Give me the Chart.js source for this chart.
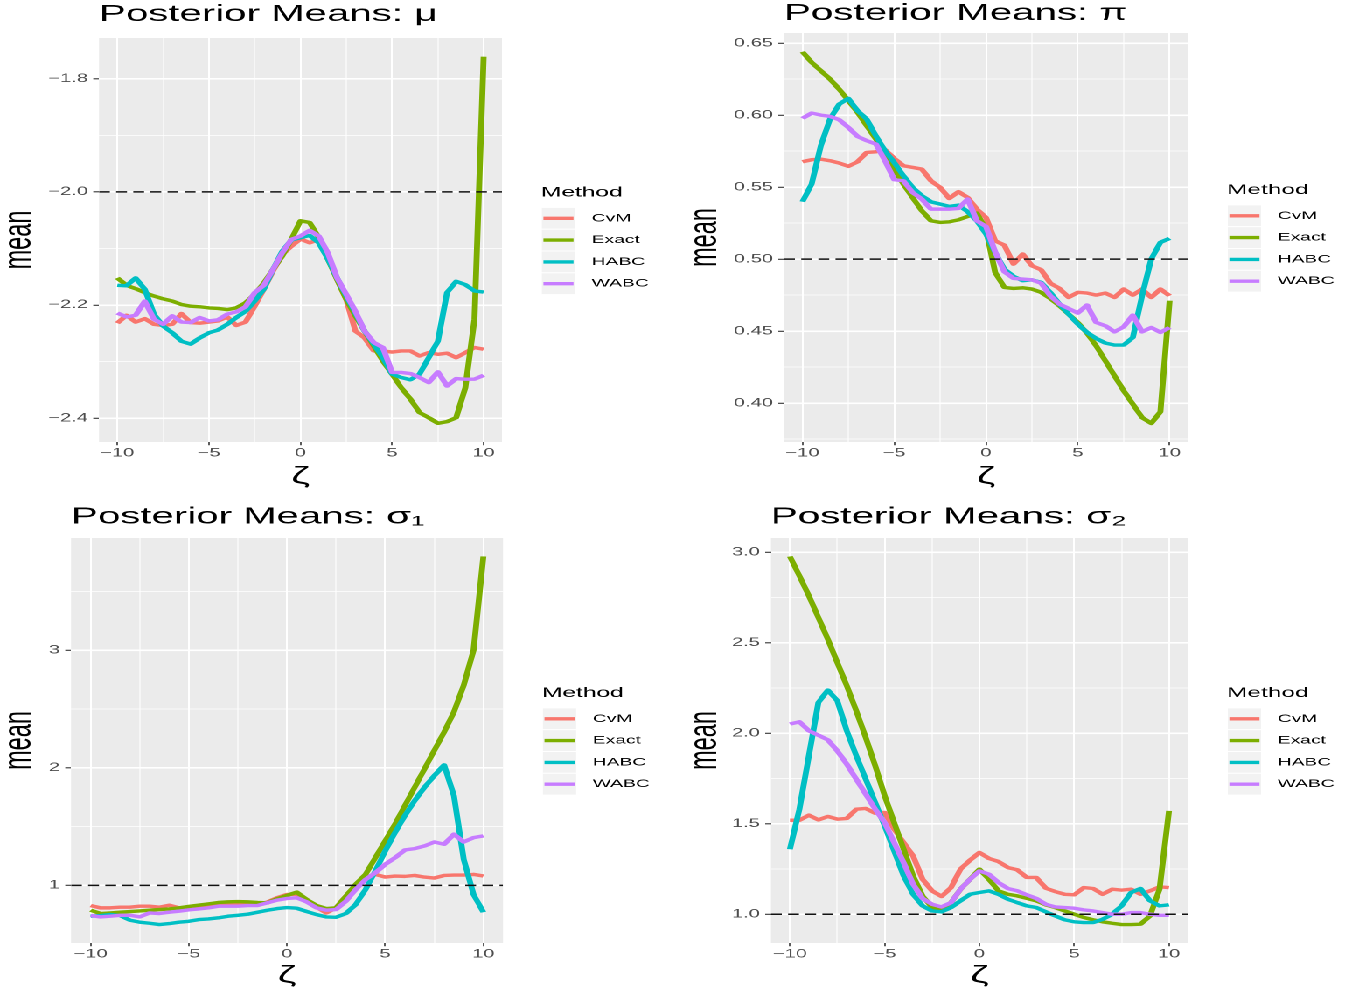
<!DOCTYPE html>
<html>
<head>
<meta charset="utf-8">
<script src="https://cdn.jsdelivr.net/npm/chart.js@4.4.1/dist/chart.umd.min.js"></script>
<style>
html,body{margin:0;padding:0;background:#fff;overflow:hidden;width:1352px;height:993px;}
#stage{position:absolute;left:0;top:0;width:773px;height:993px;transform:scaleX(1.74903);transform-origin:0 0;}
#stage canvas{position:absolute;}
</style>
</head>
<body>
<div id="stage">
  <canvas id="p1" width="386" height="496" style="left:0px;top:0px;width:386px;height:496px"></canvas>
  <canvas id="p2" width="387" height="496" style="left:386px;top:0px;width:387px;height:496px"></canvas>
  <canvas id="p3" width="386" height="497" style="left:0px;top:496px;width:386px;height:497px"></canvas>
  <canvas id="p4" width="387" height="497" style="left:386px;top:496px;width:387px;height:497px"></canvas>
</div>
<script>
// ---------------- data ----------------
const zeta = [-10,-9.5,-9,-8.5,-8,-7.5,-7,-6.5,-6,-5.5,-5,-4.5,-4,-3.5,-3,-2.5,-2,-1.5,-1,-0.5,0,0.5,1,1.5,2,2.5,3,3.5,4,4.5,5,5.5,6,6.5,7,7.5,8,8.5,9,9.5,10];
const methods = ["CvM","Exact","HABC","WABC"];
const methodColors = ["#F8766D","#7CAE00","#00BFC4","#C77CFF"];

// Posterior means of mu
const muCvM   = [-2.232,-2.218,-2.230,-2.224,-2.234,-2.236,-2.234,-2.215,-2.231,-2.232,-2.230,-2.228,-2.221,-2.236,-2.230,-2.202,-2.172,-2.140,-2.111,-2.096,-2.083,-2.090,-2.084,-2.114,-2.155,-2.190,-2.246,-2.258,-2.281,-2.281,-2.283,-2.281,-2.281,-2.290,-2.284,-2.287,-2.285,-2.293,-2.284,-2.275,-2.278];
const muExact = [-2.152,-2.165,-2.171,-2.178,-2.184,-2.189,-2.193,-2.199,-2.202,-2.203,-2.205,-2.206,-2.208,-2.205,-2.196,-2.181,-2.161,-2.137,-2.114,-2.084,-2.051,-2.054,-2.081,-2.119,-2.155,-2.190,-2.219,-2.246,-2.272,-2.299,-2.322,-2.346,-2.366,-2.390,-2.399,-2.409,-2.406,-2.399,-2.346,-2.225,-1.761];
const muHABC  = [-2.165,-2.166,-2.152,-2.172,-2.216,-2.237,-2.249,-2.264,-2.269,-2.258,-2.249,-2.244,-2.234,-2.222,-2.211,-2.193,-2.172,-2.137,-2.105,-2.085,-2.081,-2.077,-2.090,-2.119,-2.152,-2.184,-2.214,-2.246,-2.269,-2.293,-2.322,-2.328,-2.332,-2.322,-2.293,-2.264,-2.178,-2.158,-2.164,-2.175,-2.177];
const muWABC  = [-2.214,-2.221,-2.218,-2.193,-2.225,-2.234,-2.219,-2.230,-2.231,-2.222,-2.228,-2.226,-2.216,-2.212,-2.203,-2.178,-2.165,-2.137,-2.108,-2.084,-2.078,-2.068,-2.078,-2.108,-2.152,-2.181,-2.211,-2.246,-2.266,-2.275,-2.319,-2.319,-2.321,-2.328,-2.337,-2.318,-2.343,-2.330,-2.331,-2.331,-2.324];

// Posterior means of pi
const piCvM   = [0.5676,0.5690,0.5694,0.5683,0.5667,0.5644,0.5676,0.5741,0.5745,0.5759,0.5699,0.5648,0.5637,0.5625,0.5544,0.5498,0.5421,0.5468,0.5428,0.5347,0.5289,0.5127,0.5097,0.4965,0.5035,0.4954,0.4926,0.4833,0.4796,0.4734,0.4769,0.4764,0.4750,0.4764,0.4734,0.4792,0.4750,0.4792,0.4734,0.4792,0.4745];
const piExact = [0.6440,0.6366,0.6308,0.6250,0.6180,0.6100,0.6019,0.5926,0.5833,0.5729,0.5625,0.5521,0.5428,0.5336,0.5266,0.5255,0.5259,0.5273,0.5296,0.5319,0.5208,0.4907,0.4803,0.4796,0.4801,0.4792,0.4769,0.4727,0.4676,0.4618,0.4560,0.4486,0.4398,0.4294,0.4190,0.4086,0.3993,0.3900,0.3859,0.3940,0.4711];
const piHABC  = [0.5398,0.5521,0.5787,0.5972,0.6076,0.6116,0.6030,0.5972,0.5856,0.5752,0.5671,0.5579,0.5498,0.5440,0.5398,0.5382,0.5366,0.5375,0.5329,0.5266,0.5174,0.5046,0.4930,0.4880,0.4850,0.4856,0.4838,0.4769,0.4688,0.4618,0.4549,0.4491,0.4449,0.4417,0.4403,0.4403,0.4456,0.4745,0.5000,0.5116,0.5144];
const piWABC  = [0.5977,0.6014,0.6000,0.5991,0.5968,0.5914,0.5852,0.5822,0.5799,0.5683,0.5551,0.5544,0.5463,0.5417,0.5347,0.5347,0.5347,0.5352,0.5417,0.5266,0.5227,0.5051,0.4912,0.4866,0.4861,0.4856,0.4833,0.4745,0.4688,0.4657,0.4625,0.4681,0.4560,0.4537,0.4495,0.4530,0.4611,0.4495,0.4525,0.4491,0.4525];

// Posterior means of sigma1
const s1CvM   = [0.829,0.809,0.809,0.815,0.815,0.823,0.823,0.815,0.832,0.809,0.815,0.823,0.829,0.838,0.838,0.840,0.840,0.840,0.858,0.895,0.923,0.923,0.875,0.818,0.766,0.809,0.909,1.000,1.066,1.094,1.071,1.080,1.077,1.085,1.071,1.063,1.085,1.088,1.088,1.094,1.080];
const s1Exact = [0.789,0.761,0.766,0.772,0.778,0.783,0.789,0.795,0.800,0.809,0.821,0.832,0.843,0.855,0.860,0.863,0.860,0.855,0.852,0.886,0.915,0.943,0.880,0.829,0.803,0.809,0.909,1.009,1.094,1.236,1.379,1.521,1.678,1.835,1.991,2.148,2.305,2.476,2.704,3.003,3.800];
const s1HABC  = [0.738,0.744,0.752,0.744,0.704,0.687,0.678,0.667,0.675,0.687,0.695,0.709,0.715,0.724,0.738,0.746,0.755,0.772,0.789,0.803,0.812,0.806,0.778,0.752,0.732,0.729,0.761,0.838,0.966,1.123,1.293,1.450,1.593,1.721,1.835,1.934,2.026,1.764,1.222,0.923,0.772];
const s1WABC  = [0.744,0.732,0.738,0.746,0.746,0.732,0.766,0.761,0.772,0.781,0.792,0.800,0.809,0.823,0.823,0.823,0.829,0.829,0.852,0.875,0.889,0.895,0.860,0.809,0.789,0.795,0.866,0.966,1.051,1.108,1.179,1.236,1.302,1.313,1.336,1.370,1.350,1.436,1.370,1.407,1.422];

// Posterior means of sigma2
const s2CvM   = [1.519,1.519,1.547,1.521,1.540,1.525,1.529,1.580,1.584,1.558,1.562,1.470,1.396,1.322,1.193,1.129,1.098,1.147,1.249,1.298,1.341,1.308,1.291,1.258,1.245,1.203,1.203,1.144,1.125,1.110,1.107,1.147,1.142,1.110,1.138,1.133,1.138,1.110,1.129,1.151,1.147];
const s2Exact = [2.976,2.869,2.759,2.639,2.519,2.390,2.262,2.123,1.976,1.820,1.654,1.506,1.359,1.212,1.101,1.037,1.022,1.064,1.138,1.193,1.249,1.193,1.129,1.110,1.101,1.088,1.074,1.052,1.037,1.018,1.000,0.982,0.969,0.958,0.950,0.943,0.943,0.945,0.991,1.138,1.571];
const s2HABC  = [1.359,1.580,1.875,2.169,2.238,2.179,2.013,1.875,1.746,1.617,1.488,1.350,1.212,1.110,1.046,1.018,1.013,1.037,1.074,1.110,1.120,1.129,1.110,1.083,1.064,1.046,1.037,1.013,0.991,0.969,0.958,0.954,0.954,0.972,1.000,1.046,1.120,1.142,1.074,1.046,1.052];
const s2WABC  = [2.050,2.063,2.013,1.989,1.963,1.902,1.829,1.746,1.663,1.580,1.506,1.396,1.285,1.166,1.087,1.055,1.040,1.064,1.138,1.193,1.239,1.221,1.175,1.142,1.129,1.107,1.087,1.055,1.040,1.037,1.033,1.024,1.018,1.009,1.000,1.000,1.009,1.009,1.000,0.994,0.994];

// reference (true) values drawn as dashed lines
const refMu = -2.0, refPi = 0.5, refS1 = 1, refS2 = 1.0;

// axis ticks
const xGrid = [-10,-7.5,-5,-2.5,0,2.5,5,7.5,10];
const xTickValues = [-10,-5,0,5,10];
const xTickLabels = ["\u221210","\u22125","0","5","10"];

const muGrid = [-2.4,-2.3,-2.2,-2.1,-2.0,-1.9,-1.8];
const muTickValues = [-2.4,-2.2,-2.0,-1.8];
const muTickLabels = ["\u22122.4","\u22122.2","\u22122.0","\u22121.8"];

const piGrid = [0.375,0.40,0.425,0.45,0.475,0.50,0.525,0.55,0.575,0.60,0.625,0.65];
const piTickValues = [0.40,0.45,0.50,0.55,0.60,0.65];
const piTickLabels = ["0.40","0.45","0.50","0.55","0.60","0.65"];

const s1Grid = [1,1.5,2,2.5,3,3.5];
const s1TickValues = [1,2,3];
const s1TickLabels = ["1","2","3"];

const s2Grid = [1.0,1.25,1.5,1.75,2.0,2.25,2.5,2.75,3.0];
const s2TickValues = [1.0,1.5,2.0,2.5,3.0];
const s2TickLabels = ["1.0","1.5","2.0","2.5","3.0"];

// ---------------- chart helpers ----------------
Chart.defaults.font.family = '"Liberation Sans", Arial, Helvetica, sans-serif';
Chart.defaults.animation = false;

const key = v => Number(v).toFixed(4);
function labelMap(vals, labs){ const m = {}; vals.forEach((v,i)=>{ m[key(v)] = labs[i]; }); return m; }

const panelBg = {
  id:'panelBg',
  beforeDraw(chart){
    const {ctx, chartArea:a} = chart;
    ctx.save();
    ctx.fillStyle = '#EBEBEB';
    ctx.fillRect(a.left, a.top, a.right-a.left, a.bottom-a.top);
    ctx.restore();
  }
};

const ggLegend = {
  id:'ggLegend',
  afterDraw(chart, args, opts){
    const {ctx, chartArea:a} = chart;
    const c = (a.top + a.bottom)/2;
    const x0 = a.right + 22.3;
    const kw = 20, kh = 21.8;
    ctx.save();
    ctx.textAlign = 'left';
    ctx.textBaseline = 'middle';
    ctx.fillStyle = '#000';
    ctx.font = '14px "Liberation Sans", Arial, sans-serif';
    ctx.fillText(opts.title, x0, c - 47.2);
    const items = chart.data.datasets.filter(d => d.inLegend);
    items.forEach((d,i) => {
      const kc = c - 21.7 + kh*i;
      const ky = kc - kh/2;
      ctx.fillStyle = '#F2F2F2';
      ctx.fillRect(x0, ky, kw, kh);
      ctx.strokeStyle = '#FFFFFF';
      ctx.lineWidth = 1;
      ctx.strokeRect(x0, ky, kw, kh);
      ctx.strokeStyle = d.borderColor;
      ctx.lineWidth = 3.4;
      ctx.lineCap = 'butt';
      ctx.beginPath();
      ctx.moveTo(x0 + kw*0.07, kc);
      ctx.lineTo(x0 + kw*0.93, kc);
      ctx.stroke();
      ctx.fillStyle = '#000';
      ctx.font = '11px "Liberation Sans", Arial, sans-serif';
      ctx.fillText(d.label, a.right + 51.3, kc);
    });
    ctx.restore();
  }
};

function makePanel(id, titleText, series, ref, yMin, yMax, yGrid, yTickValues, yTickLabels, L){
  const xLab = labelMap(xTickValues, xTickLabels);
  const yLab = labelMap(yTickValues, yTickLabels);
  const xMaj = v => key(v) in xLab;
  const yMaj = v => key(v) in yLab;
  const orders = [4,3,2,1];
  const datasets = series.map((vals,i) => ({
    label: methods[i],
    inLegend: true,
    data: zeta.map((z,j) => ({x:z, y:vals[j]})),
    borderColor: methodColors[i],
    backgroundColor: methodColors[i],
    borderWidth: 3.4,
    borderJoinStyle: 'round',
    borderCapStyle: 'butt',
    pointRadius: 0,
    tension: 0,
    fill: false,
    order: orders[i]
  }));
  datasets.push({
    label: 'ref',
    inLegend: false,
    data: [{x:-11, y:ref},{x:11, y:ref}],
    borderColor: '#111111',
    borderWidth: 1.5,
    borderDash: [6.2, 3.6],
    pointRadius: 0,
    fill: false,
    order: 0
  });
  return new Chart(document.getElementById(id), {
    type: 'line',
    data: { datasets },
    plugins: [panelBg, ggLegend],
    options: {
      responsive: false,
      maintainAspectRatio: false,
      devicePixelRatio: 2,
      animation: false,
      events: [],
      layout: { padding: { left: L.padLeft, right: L.padRight, top: 0, bottom: 0 } },
      plugins: {
        legend: { display: false },
        tooltip: { enabled: false },
        title: {
          display: true, text: titleText, align: 'start', fullSize: false,
          color: '#000000',
          font: { size: 23, weight: 'normal', lineHeight: 1.0 },
          padding: { top: L.tPT, bottom: L.tPB }
        },
        ggLegend: { title: 'Method' }
      },
      scales: {
        x: {
          type: 'linear', min: -11, max: 11,
          afterBuildTicks: s => { s.ticks = xGrid.map(v => ({value: v})); },
          afterFit: s => { s.height = L.xH; },
          border: { display: false },
          grid: {
            color: '#FFFFFF',
            lineWidth: c => (c.tick && xMaj(c.tick.value)) ? 1.0 : 0.55,
            drawTicks: true, tickLength: 3.3,
            tickColor: c => (c.tick && xMaj(c.tick.value)) ? '#333333' : 'rgba(0,0,0,0)',
            tickWidth: 0.8
          },
          ticks: {
            autoSkip: false, maxRotation: 0, minRotation: 0, padding: 1.2,
            color: '#4D4D4D', font: { size: 11.5 },
            callback: v => xLab[key(v)] || ''
          },
          title: {
            display: true, text: '\u03B6', color: '#000000',
            font: { size: 24, lineHeight: 1.0 },
            padding: { top: 0, bottom: L.xTPB }
          }
        },
        y: {
          type: 'linear', min: yMin, max: yMax,
          afterBuildTicks: s => { s.ticks = yGrid.map(v => ({value: v})); },
          afterFit: s => { s.width = L.yW; },
          border: { display: false },
          grid: {
            color: '#FFFFFF',
            lineWidth: c => (c.tick && yMaj(c.tick.value)) ? 1.6 : 0.8,
            drawTicks: true, tickLength: 3.3,
            tickColor: c => (c.tick && yMaj(c.tick.value)) ? '#333333' : 'rgba(0,0,0,0)',
            tickWidth: 1.1
          },
          ticks: {
            autoSkip: false, padding: 3,
            color: '#4D4D4D', font: { size: 11.5 },
            callback: v => yLab[key(v)] || ''
          },
          title: {
            display: true, text: 'mean', color: '#000000',
            font: { size: 23.5, lineHeight: 0.92 },
            padding: { top: 0, bottom: 0 }
          }
        }
      }
    }
  });
}

makePanel('p1', 'Posterior Means: \u03BC', [muCvM, muExact, muHABC, muWABC], refMu,
  -2.442, -1.728, muGrid, muTickValues, muTickLabels,
  { padLeft: 0, padRight: 99, yW: 56.6, tPT: 3.2, tPB: 11.8, xH: 54, xTPB: 7 });

makePanel('p2', 'Posterior Means: \u03C0', [piCvM, piExact, piHABC, piWABC], refPi,
  0.373, 0.657, piGrid, piTickValues, piTickLabels,
  { padLeft: 6.2, padRight: 93.8, yW: 56.1, tPT: 2.3, tPB: 7.7, xH: 54, xTPB: 7 });

makePanel('p3', 'Posterior Means: \u03C3\u2081', [s1CvM, s1Exact, s1HABC, s1WABC], refS1,
  0.51, 3.957, s1Grid, s1TickValues, s1TickLabels,
  { padLeft: 0, padRight: 98.4, yW: 40.6, tPT: 9.5, tPB: 9.5, xH: 50, xTPB: 5 });

makePanel('p4', 'Posterior Means: \u03C3\u2082', [s2CvM, s2Exact, s2HABC, s2WABC], refS2,
  0.841, 3.078, s2Grid, s2TickValues, s2TickLabels,
  { padLeft: 6.2, padRight: 93.8, yW: 48.6, tPT: 9.5, tPB: 9.5, xH: 50, xTPB: 5 });
</script>
</body>
</html>
